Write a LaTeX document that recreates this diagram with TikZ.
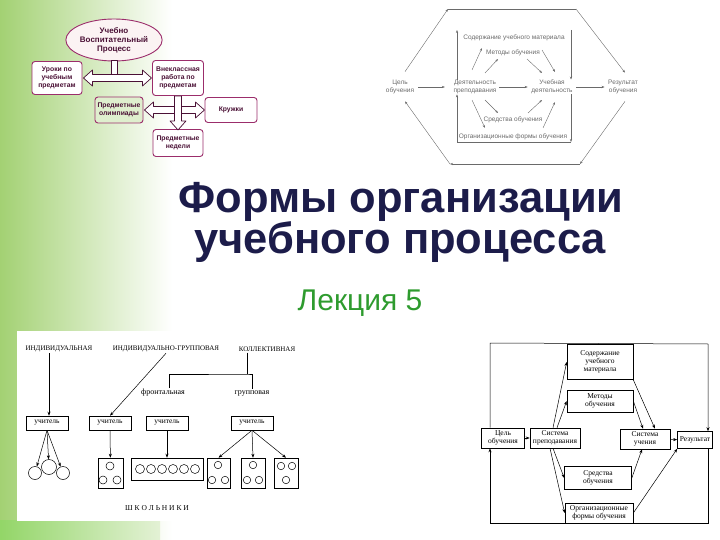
\documentclass[tikz,border=0pt]{standalone}
\usepackage{fontspec}
\setmainfont{Liberation Sans}
\newfontfamily\timesru{Liberation Serif}
\usetikzlibrary{positioning, arrows.meta, calc, shapes.geometric}
\definecolor{nacht}{HTML}{1C1C4A}
\definecolor{gras}{HTML}{2E9B2E}
\definecolor{wald}{HTML}{A3D173}
\definecolor{lila}{HTML}{9B2D6B}
\definecolor{lilatext}{HTML}{4A1035}
\definecolor{rosa}{HTML}{FBF3F3}
\definecolor{asche}{HTML}{6A6A6A}

\begin{document}
\begin{tikzpicture}[x=1pt, y=-1pt,
      kasten/.style={draw=lila, line width=0.9pt, rounded corners=3pt,
        fill=white, text=lilatext, align=center, inner sep=1pt,
        font=\fontsize{6.8}{7.8}\selectfont\bfseries},
      blockpfeil/.style={draw=lilatext, line width=0.7pt, fill=white, line join=round},
      grau/.style={text=asche, align=center, inner sep=0.5pt,
        font=\fontsize{6.5}{7.5}\selectfont},
      pfeilgrau/.style={-{Stealth[length=3pt, width=2.2pt]}, asche, line width=0.4pt},
      etikett/.style={inner sep=1pt, font=\timesru\fontsize{7}{8}\selectfont},
      lehrer/.style={draw, line width=0.5pt, minimum width=42pt, minimum height=14pt,
        inner sep=1pt, font=\timesru\fontsize{7.5}{8}\selectfont},
      gruppe/.style={draw, line width=0.5pt, inner sep=0pt},
      kind/.style={draw, circle, line width=0.5pt, inner sep=0pt, minimum size=8pt},
      pfeil/.style={-{Stealth[length=4pt, width=3pt]}, line width=0.5pt},
      rbox/.style={draw, line width=0.6pt, align=center, inner sep=1pt,
        font=\timesru\fontsize{7.5}{8}\selectfont}]
    \useasboundingbox (0,0) rectangle (720,540);
    % Hintergrund
    \shade[left color=wald, right color=white] (0,0) rectangle (172,540);
    \shade[left color=wald!90!green, right color=wald!30] (0,520) rectangle (160,540);
    \fill[white] (17,331) rectangle (330,521);

    % Schema oben links
    \node[kasten, ellipse, fill=rosa, minimum width=88pt, minimum height=42pt, inner sep=0pt,
      font=\fontsize{8}{9}\selectfont\bfseries] (proz) at (114,40) {Учебно\\Воспитательный\\Процесс};
    \node[kasten, minimum width=50pt, minimum height=33pt] (urok) at (57,78) {Уроки по\\учебным\\предметам};
    \node[kasten, minimum width=51pt, minimum height=35pt] (vnekl) at (178,78) {Внеклассная\\работа по\\предметам};
    \node[kasten, minimum width=48pt, minimum height=26pt, fill=wald!35] (olymp) at (119,110) {Предметные\\олимпиады};
    \node[kasten, minimum width=52pt, minimum height=25pt] (kruzh) at (231,110) {Кружки};
    \node[kasten, minimum width=50pt, minimum height=27pt] (nedel) at (178,143) {Предметные\\недели};
    \draw[blockpfeil] ($(proz.south)+(-3,-1)$) rectangle ($(proz.south)+(3,15)$);
    \draw[blockpfeil] ([xshift=1pt]urok.east) -- ++(9,-8) -- ++(0,4.5) -- ++(50,0) -- ++(0,-4.5)
      -- ++(9,8) -- ++(-9,8) -- ++(0,-4.5) -- ++(-50,0) -- ++(0,4.5) -- cycle;
    \draw[blockpfeil] ([xshift=1pt]olymp.east) -- ++(9,-8) -- ++(0,4.5) -- ++(42,0) -- ++(0,-4.5)
      -- ++(9,8) -- ++(-9,8) -- ++(0,-4.5) -- ++(-42,0) -- ++(0,4.5) -- cycle;
    \draw[blockpfeil] ([xshift=-3.5pt]vnekl.south) -- ++(7,0) -- ++(0,25) -- ++(4.5,0)
      -- ++(-8,9) -- ++(-8,-9) -- ++(4.5,0) -- cycle;

    % Schema oben rechts
    \node[grau] (tcel) at (400,87) {Цель\\обучения};
    \node[grau] (tdeyat) at (475,87) {Деятельность\\преподавания};
    \node[grau] (tucheb) at (552,87) {Учебная\\деятельность};
    \node[grau] (tres) at (623,87) {Результат\\обучения};
    \node[grau] (tsod) at (514,38) {Содержание учебного материала};
    \node[grau] (tmet) at (513,53) {Методы обучения};
    \node[grau] (tsred) at (513,120) {Средства обучения};
    \node[grau] (torg) at (513,137) {Организационные формы обучения};
    \coordinate (hTL) at (448,9);
    \coordinate (hTR) at (576,9);
    \coordinate (hBL) at (450,164);
    \coordinate (hBR) at (580,164);
    \coordinate (iTL) at (457,30);
    \coordinate (iTR) at (571,30);
    \coordinate (iBL) at (457,142);
    \coordinate (iBR) at (571,142);
    \draw[pfeilgrau, shorten <=3pt, shorten >=8pt] (tcel) -- (tdeyat);
    \draw[pfeilgrau, shorten <=2pt, shorten >=3pt] (tdeyat) -- (tucheb);
    \draw[pfeilgrau, shorten <=3pt, shorten >=3pt] (tucheb) -- (tres);
    \draw[pfeilgrau] ([xshift=5pt, yshift=8pt]tcel.north) -- (hTL);
    \draw[asche, line width=0.4pt] (hTL) -- (hTR);
    \draw[pfeilgrau] (hTR) -- ([xshift=2pt, yshift=7pt]tres.north);
    \draw[pfeilgrau] ([xshift=2pt, yshift=-7pt]tres.south) -- (hBR);
    \draw[pfeilgrau] (hBR) -- (hBL);
    \draw[pfeilgrau] (hBL) -- ([xshift=5pt, yshift=-7pt]tcel.south);
    \draw[pfeilgrau] (tdeyat.north -| iTL) -- (iTL);
    \draw[pfeilgrau] (iTR) -- (tucheb.north -| iTR);
    \draw[pfeilgrau] (tucheb.south -| iBR) -- (iBR);
    \draw[pfeilgrau] (iBR) -- (iBL) -- (tdeyat.south -| iBL);
    \draw[pfeilgrau] ([shift={(-3,-17)}]tdeyat.center) -- ([shift={(-32,10)}]tsod.center);
    \draw[pfeilgrau] ([shift={(10,-14)}]tdeyat.center) -- ([shift={(-15,6)}]tmet.center);
    \draw[pfeilgrau] ([shift={(14,6)}]tmet.center) -- ([shift={(-10,-14)}]tucheb.center);
    \draw[pfeilgrau] ([shift={(28,12)}]tsod.center) -- ([shift={(3,-15)}]tucheb.center);
    \draw[pfeilgrau] ([shift={(10,13)}]tdeyat.center) -- ([shift={(-15,-7)}]tsred.center);
    \draw[pfeilgrau] ([shift={(-3,13)}]tdeyat.center) -- ([shift={(-28,-9)}]torg.center);
    \draw[pfeilgrau] ([shift={(15,-7)}]tsred.center) -- ([shift={(-10,13)}]tucheb.center);
    \draw[pfeilgrau] ([shift={(30,-9)}]torg.center) -- ([shift={(3,15)}]tucheb.center);

    % Titel
    \node[anchor=base, text=nacht, font=\fontsize{43.5}{48}\selectfont\bfseries] (titel) at (401,212) {Формы организации};
    \node[anchor=base, text=nacht, font=\fontsize{43.5}{48}\selectfont\bfseries] (titel2) at (400,253) {учебного процесса};
    \node[anchor=base, text=gras, font=\fontsize{30}{32}\selectfont] (lektion) at (360,310) {Лекция 5};

    % Schema unten links
    \node[etikett] (li) at (59,349) {ИНДИВИДУАЛЬНАЯ};
    \node[etikett] (lig) at (166,349) {ИНДИВИДУАЛЬНО-ГРУППОВАЯ};
    \node[etikett] (lk) at (267,349) {КОЛЛЕКТИВНАЯ};
    \node[etikett, font=\timesru\fontsize{8}{9}\selectfont] (lfr) at (163,393) {фронтальная};
    \node[etikett, font=\timesru\fontsize{8}{9}\selectfont] (lgr) at (252,393) {групповая};
    \node[lehrer] (u1) at (47,423) {учитель};
    \node[lehrer] (u2) at (110,423) {учитель};
    \node[lehrer] (u3) at (167,423) {учитель};
    \node[lehrer] (u4) at (252,423) {учитель};
    \node[kind, minimum size=13pt] (c1) at (35,473) {};
    \node[kind, minimum size=15pt] (c2) at (49,467) {};
    \node[kind, minimum size=13pt] (c3) at (63,473) {};
    \node[gruppe, minimum width=25pt, minimum height=30pt] (g1) at (110.5,473) {};
    \node[gruppe, minimum width=72pt, minimum height=22pt] (grow) at (167,469) {};
    \node[gruppe, minimum width=23pt, minimum height=30pt] (ga) at (218.5,473) {};
    \node[gruppe, minimum width=24pt, minimum height=30pt] (gb) at (253,473) {};
    \node[gruppe, minimum width=24pt, minimum height=30pt] (gc) at (286,473) {};
    \foreach \x/\y [count=\i] in {110/466, 103/480, 117/480}
      \node[kind] (ka\i) at (\x,\y) {};
    \foreach \x [count=\i] in {140,151,162,173,184,195}
      \node[kind, minimum size=9pt] (kb\i) at (\x,469) {};
    \foreach \x/\y [count=\i] in {218/465, 212/480, 225/480, 253/465, 247/480, 259/480, 281/466, 292/466, 286/480}
      \node[kind, minimum size=7.5pt] (kc\i) at (\x,\y) {};
    \node[etikett, font=\timesru\fontsize{7.5}{8}\selectfont] (schule) at (157,508) {Ш К О Л Ь Н И К И};
    \coordinate (kj) at (247,374);
    \draw[pfeil] ([xshift=-10pt]li.south) -- ([xshift=2pt]u1.north);
    \draw[pfeil] (lig.south) -- (u2.north);
    \draw[line width=0.5pt] (lk.south -| kj) -- (kj);
    \draw[line width=0.5pt] ([xshift=6pt]lfr.north) |- (kj) -| (lgr.north);
    \foreach \k in {c1,c2,c3}
      \draw[pfeil] (u1.south) -- (\k);
    \draw[pfeil] (u2) -- (g1);
    \draw[pfeil] (u3.south) -- (u3.south |- grow.north);
    \foreach \k in {ga,gb,gc}
      \draw[pfeil] (u4.south) -- (\k.north);

    % Schema unten rechts
    \node[rbox, minimum width=43pt, minimum height=20pt] (rc) at (503,438) {Цель\\обучения};
    \node[rbox, minimum width=50pt, minimum height=20pt] (rs) at (555,438) {Система\\преподавания};
    \node[rbox, minimum width=66pt, minimum height=35pt] (rsod) at (600,362) {Содержание\\учебного\\материала};
    \node[rbox, minimum width=66pt, minimum height=22pt] (rmet) at (600,401) {Методы\\обучения};
    \node[rbox, minimum width=67pt, minimum height=23pt] (rsr) at (598,478) {Средства\\обучения};
    \node[rbox, minimum width=68pt, minimum height=20pt] (rorg) at (599,513) {Организационные\\формы обучения};
    \node[rbox, minimum width=50pt, minimum height=20pt] (ru) at (645,439) {Система\\учения};
    \node[rbox, minimum width=35pt, minimum height=17pt] (rr) at (695,440) {Результат};
    \coordinate (rtl) at (490,343);
    \coordinate (rtr) at (708,344);
    \coordinate (rbl) at (490,523);
    \coordinate (rbr) at (708,523);
    \draw[pfeil] (rc.north -| rtl) -- (rtl) -- (rtr) -- (rr.north -| rtr);
    \draw[pfeil] (rr.south -| rbr) -- (rbr) -- (rbl) -- (rc.south -| rbl);
    \draw[pfeil] (rc) -- (rs);
    \draw[pfeil] ([xshift=-2pt]rs.north) -- (rsod.west);
    \draw[pfeil] ([xshift=2pt]rs.north) -- (rmet.west);
    \draw[pfeil] ([xshift=-2pt]rs.south) -- (rsr.west);
    \draw[pfeil] ([xshift=-5pt]rs.south) -- (rorg.west);
    \draw[pfeil] (rsod.south east) -- ([xshift=10pt]ru.north);
    \draw[pfeil] (rmet.east) -- ([xshift=-2pt]ru.north);
    \draw[pfeil] (rsr.east) -- ([xshift=-3pt]ru.south);
    \draw[pfeil] (ru) -- (rr);
    \draw[pfeil] (rorg.east) -- (rr.south west);
  \end{tikzpicture}
\end{document}
